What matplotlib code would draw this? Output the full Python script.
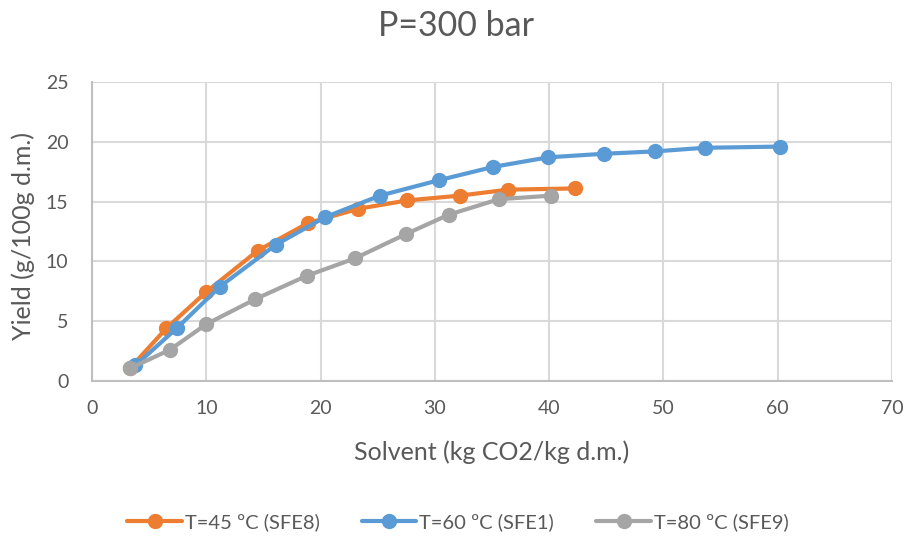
import matplotlib.pyplot as plt

x45 = [3.3, 6.5, 10.0, 14.5, 18.9, 23.3, 27.6, 32.2, 36.4, 42.3]
y45 = [1.05, 4.4, 7.45, 10.9, 13.2, 14.4, 15.1, 15.5, 16.0, 16.1]

x60 = [3.8, 7.4, 11.2, 16.1, 20.4, 25.2, 30.4, 35.1, 39.9, 44.8, 49.3, 53.6, 60.2]
y60 = [1.3, 4.4, 7.9, 11.4, 13.7, 15.5, 16.8, 17.9, 18.7, 19.0, 19.2, 19.5, 19.6]

x80 = [3.3, 6.8, 10.0, 14.3, 18.8, 23.0, 27.5, 31.2, 35.6, 40.2]
y80 = [1.05, 2.6, 4.75, 6.85, 8.8, 10.25, 12.3, 13.9, 15.2, 15.5]

labels = ["T=45 ºC (SFE8)", "T=60 ºC (SFE1)", "T=80 ºC (SFE9)"]
colors = ["#ED7D31", "#5B9BD5", "#A5A5A5"]

plt.rcParams['font.family'] = ['Lato', 'DejaVu Sans']
txt = "#595959"
W, H = 911, 537

fig = plt.figure(figsize=(W / 100, H / 100), dpi=100)
ax = fig.add_axes([92 / W, 1 - 381 / H, 800 / W, 299 / H])

for xs, ys, lab, c in zip([x45, x60, x80], [y45, y60, y80], labels, colors):
    ax.plot(xs, ys, color=c, lw=3, marker='o', ms=10, label=lab,
            solid_capstyle='round', solid_joinstyle='round')

ax.set_xlim(0, 70)
ax.set_ylim(0, 25)
ax.set_xticks(range(0, 71, 10))
ax.set_yticks(range(0, 26, 5))
ax.grid(True, color="#D9D9D9", lw=1.5)
ax.set_axisbelow(True)
for s in ['top', 'right']:
    ax.spines[s].set_visible(False)
for s in ['left', 'bottom']:
    ax.spines[s].set_color("#BFBFBF")
    ax.spines[s].set_linewidth(1.5)
ax.tick_params(length=0, labelsize=14, colors=txt)
ax.tick_params(axis='y', pad=17)
ax.tick_params(axis='x', pad=14)

fig.text(0.5 * (92 + 892) / W, 1 - 452 / H, "Solvent (kg CO2/kg d.m.)",
         fontsize=18, color=txt, ha='center', va='center')
fig.text(23 / W, 1 - 236 / H, "Yield (g/100g d.m.)", fontsize=18,
         color=txt, ha='center', va='center', rotation=90)
fig.text(0.5, 1 - 26 / H, "P=300 bar", fontsize=24.5, color=txt,
         ha='center', va='center')

fig.legend(loc='center', bbox_to_anchor=(458 / W, 1 - 522 / H), ncol=3,
           frameon=False, fontsize=14.5, labelcolor=txt, handlelength=2.7,
           handletextpad=0.15, columnspacing=2.1)

fig.savefig("out.png", dpi=100)
